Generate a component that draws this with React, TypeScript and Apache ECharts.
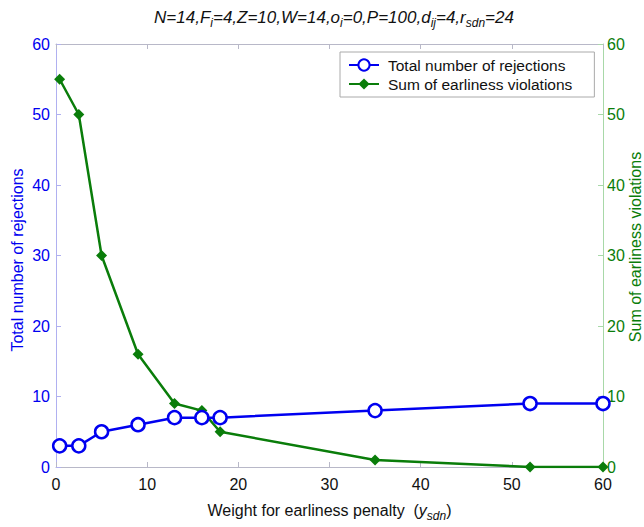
import React, { useEffect, useRef } from "react";
import * as echarts from "echarts";

// Weight for earliness penalty (x values)
const weights = [0.4, 2.5, 5, 9, 13, 16, 18, 35, 52, 60];
// Total number of rejections (left axis)
const rejections = [3, 3, 5, 6, 7, 7, 7, 8, 9, 9];
// Sum of earliness violations (right axis)
const violations = [55, 50, 30, 16, 9, 8, 5, 1, 0, 0];
// Shared tick range for all axes
const axisMin = 0;
const axisMax = 60;
const axisStep = 10;

const BLUE = "#0000f0";
const GREEN = "#0a7d0a";
const FONT = "Liberation Sans, Arial, Helvetica, sans-serif";

export default function App() {
  const ref = useRef<HTMLDivElement>(null);

  useEffect(() => {
    if (!ref.current) return;
    const chart = echarts.init(ref.current, undefined, { renderer: "svg" });

    const main = { fontSize: 17, fontStyle: "italic", fontWeight: "normal", fontFamily: FONT, color: "#111" };
    const sub = { fontSize: 12, fontStyle: "italic", fontWeight: "normal", fontFamily: FONT, color: "#111", padding: [12, 0, 0, 0] };

    chart.setOption({
      animation: false,
      backgroundColor: "#fff",
      title: {
        left: 329,
        textAlign: "center",
        top: 0,
        text:
          "{m|N=14,F}{s|i}{m|=4,Z=10,W=14,o}{s|i}{m|=0,P=100,d}{s|ij}{m|=4,r}{s|sdn}{m|=24}",
        textStyle: { fontWeight: "normal", rich: { m: main, s: sub } },
      },
      legend: {
        left: 340,
        top: 52,
        orient: "vertical",
        backgroundColor: "#fff",
        borderColor: "#aaa",
        borderWidth: 1,
        borderRadius: 0,
        padding: [5, 22, 5, 8],
        itemGap: 3,
        itemWidth: 30,
        itemHeight: 14,
        textStyle: { fontFamily: FONT, fontSize: 15.5, color: "#111", padding: [0, 0, 0, 4] },
        data: ["Total number of rejections", "Sum of earliness violations"],
      },
      graphic: [
        {
          type: "text",
          x: 17,
          y: 260,
          rotation: Math.PI / 2,
          style: {
            text: "Total number of rejections",
            fontFamily: FONT,
            fontSize: 16,
            fill: BLUE,
            align: "center",
            verticalAlign: "middle",
          },
        },
        {
          type: "text",
          x: 635,
          y: 247,
          rotation: Math.PI / 2,
          style: {
            text: "Sum of earliness violations",
            fontFamily: FONT,
            fontSize: 16,
            fill: GREEN,
            align: "center",
            verticalAlign: "middle",
          },
        },
      ],
      grid: { left: 56, right: 41, top: 44, bottom: 51 },
      xAxis: [
        {
          type: "value",
          min: axisMin,
          max: axisMax,
          interval: axisStep,
          position: "bottom",
          axisLine: { onZero: false, lineStyle: { color: "#b8b8c8" } },
          axisTick: { inside: true, length: 5, lineStyle: { color: "#b8b8c8" } },
          axisLabel: { fontFamily: FONT, fontSize: 16, color: "#111", margin: 9 },
          splitLine: { show: false },
          name: "{t|Weight for earliness penalty  (}{i|y}{s|sdn}{t|)}",
          nameLocation: "middle",
          nameGap: 32,
          nameTextStyle: {
            rich: {
              t: { fontFamily: FONT, fontSize: 16, color: "#111" },
              i: { fontFamily: FONT, fontSize: 16, fontStyle: "italic", color: "#111" },
              s: { fontFamily: FONT, fontSize: 12, fontStyle: "italic", color: "#111", padding: [11, 0, 0, 0] },
            },
          },
        },
        {
          type: "value",
          min: axisMin,
          max: axisMax,
          interval: axisStep,
          position: "top",
          axisLine: { show: true, onZero: false, lineStyle: { color: "#b8b8c8" } },
          axisTick: { inside: true, length: 5, lineStyle: { color: "#b8b8c8" } },
          axisLabel: { show: false },
          splitLine: { show: false },
        },
      ],
      yAxis: [
        {
          type: "value",
          min: axisMin,
          max: axisMax,
          interval: axisStep,
          position: "left",
          axisLine: { show: true, onZero: false, lineStyle: { color: "#b0b0f0" } },
          axisTick: { show: true, inside: true, length: 5, lineStyle: { color: "#b0b0f0" } },
          axisLabel: { fontFamily: FONT, fontSize: 16, color: BLUE, margin: 6 },
          splitLine: { show: false },
        },
        {
          type: "value",
          min: axisMin,
          max: axisMax,
          interval: axisStep,
          position: "right",
          axisLine: { show: true, onZero: false, lineStyle: { color: "#a8d8a8" } },
          axisTick: { show: true, inside: true, length: 5, lineStyle: { color: "#a8d8a8" } },
          axisLabel: { fontFamily: FONT, fontSize: 16, color: GREEN, margin: 4 },
          splitLine: { show: false },
        },
      ],
      series: [
        {
          name: "Sum of earliness violations",
          type: "line",
          yAxisIndex: 1,
          data: weights.map((w, i) => [w, violations[i]]),
          symbol: "diamond",
          symbolSize: 11,
          lineStyle: { color: GREEN, width: 2.5 },
          itemStyle: { color: GREEN },
        },
        {
          name: "Total number of rejections",
          type: "line",
          yAxisIndex: 0,
          data: weights.map((w, i) => [w, rejections[i]]),
          symbol: "circle",
          symbolSize: 13,
          showAllSymbol: true,
          lineStyle: { color: BLUE, width: 2.5 },
          itemStyle: { color: "#fff", borderColor: BLUE, borderWidth: 2.5 },
        },
      ],
    });

    return () => chart.dispose();
  }, []);

  return <div ref={ref} style={{ width: 644, height: 527, position: "absolute", left: 0, top: 0 }} />;
}
